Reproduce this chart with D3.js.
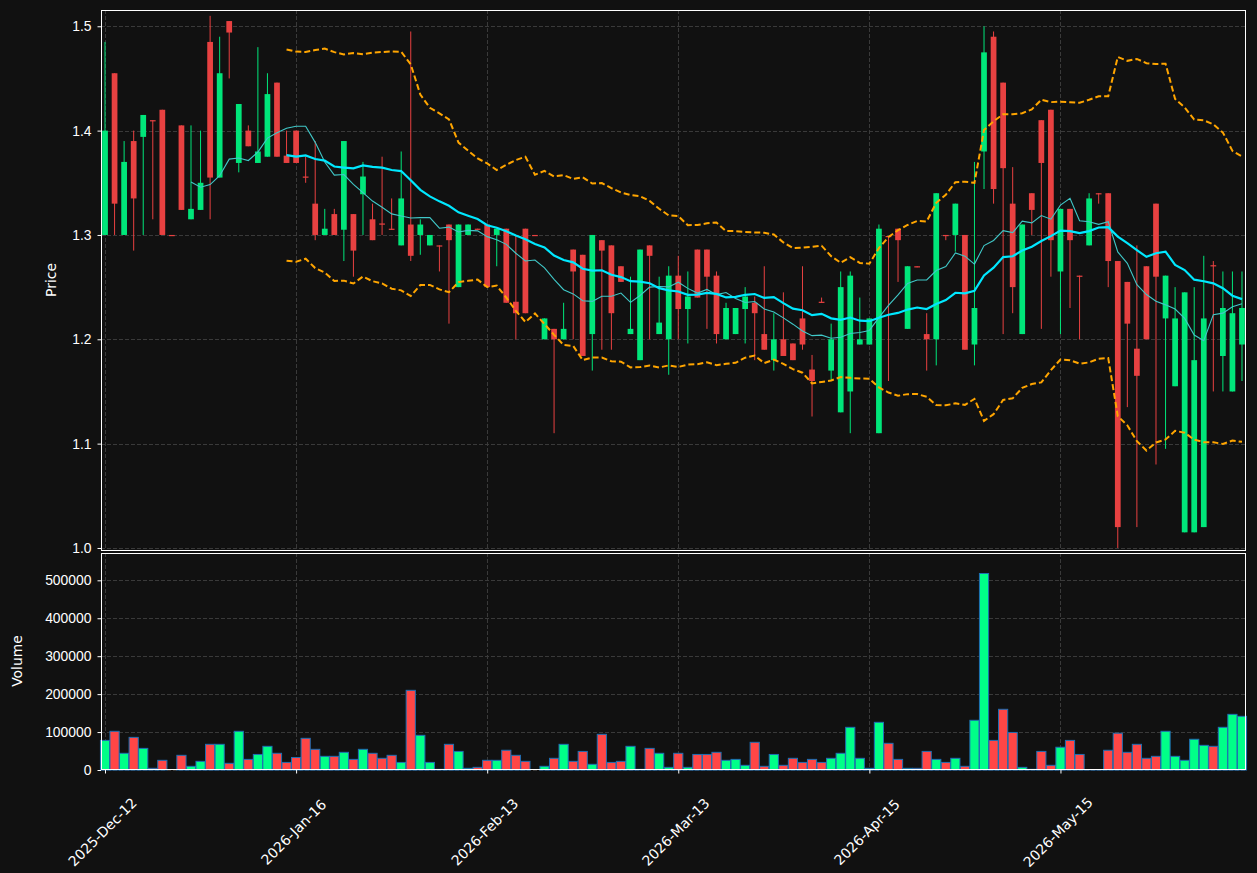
<!DOCTYPE html>
<html>
<head>
<meta charset="utf-8">
<script src="https://cdn.jsdelivr.net/npm/d3@7"></script>
<style>
  body { margin: 0; background: #111111; }
  svg { display: block; font-family: "DejaVu Sans", sans-serif; }
  .tick text { fill: #ffffff; font-size: 13.9px; }
  .tick line { stroke: #ffffff; }
  .grid line { stroke: #3a3a3a; stroke-width: 1; stroke-dasharray: 4,2; }
  .frame { fill: none; stroke: #ffffff; stroke-width: 1; }
  .label { fill: #ffffff; font-size: 13.9px; }
</style>
</head>
<body>
<svg id="chart" width="1257" height="873"></svg>
<script>
// trading-day index of each labelled tick
const tickIdx = [0, 20, 40, 60, 80, 100];
const tickLabels = ["2025-Dec-12", "2026-Jan-16", "2026-Feb-13", "2026-Mar-13", "2026-Apr-15", "2026-May-15"];

const open = [
  1.3, 1.455, 1.3, 1.39, 1.394, 1.41, 1.42, 1.3, 1.405, 1.315,
  1.324, 1.485, 1.355, 1.505, 1.369, 1.4, 1.369, 1.375, 1.446, 1.376,
  1.4, 1.356, 1.33, 1.3, 1.32, 1.305, 1.32, 1.339, 1.315, 1.311,
  1.306, 1.29, 1.31, 1.3, 1.29, 1.29, 1.31, 1.25, 1.3, 1.306,
  1.31, 1.3, 1.306, 1.236, 1.306, 1.3, 1.2, 1.21, 1.2, 1.286,
  1.281, 1.205, 1.295, 1.29, 1.27, 1.205, 1.18, 1.29, 1.205, 1.2,
  1.261, 1.229, 1.286, 1.286, 1.261, 1.2, 1.205, 1.229, 1.235, 1.205,
  1.18, 1.2, 1.196, 1.22, 1.171, 1.236, 1.17, 1.13, 1.15, 1.195,
  1.195, 1.11, 1.299, 1.306, 1.21, 1.27, 1.205, 1.2, 1.3, 1.3,
  1.3, 1.195, 1.38, 1.49, 1.446, 1.33, 1.205, 1.34, 1.41, 1.42,
  1.265, 1.325, 1.261, 1.29, 1.34, 1.34, 1.275, 1.255, 1.191, 1.27,
  1.33, 1.22, 1.155, 1.015, 1.015, 1.02, 1.271, 1.184, 1.15, 1.195
];
const high = [
  1.485, 1.455, 1.39, 1.4, 1.415, 1.41, 1.42, 1.3, 1.405, 1.405,
  1.4, 1.51, 1.49, 1.505, 1.4255, 1.405, 1.48, 1.455, 1.446, 1.4,
  1.4, 1.375, 1.39, 1.325, 1.325, 1.39, 1.32, 1.37, 1.33, 1.375,
  1.335, 1.38, 1.495, 1.315, 1.3, 1.29, 1.31, 1.31, 1.31, 1.306,
  1.31, 1.306, 1.306, 1.3, 1.306, 1.3, 1.22, 1.21, 1.235, 1.286,
  1.281, 1.3, 1.295, 1.29, 1.27, 1.26, 1.286, 1.29, 1.26, 1.27,
  1.28, 1.265, 1.286, 1.286, 1.265, 1.235, 1.23, 1.25, 1.241, 1.27,
  1.225, 1.245, 1.196, 1.27, 1.185, 1.24, 1.215, 1.265, 1.265, 1.24,
  1.22, 1.31, 1.299, 1.306, 1.27, 1.27, 1.225, 1.34, 1.3, 1.33,
  1.3, 1.37, 1.5, 1.495, 1.446, 1.365, 1.31, 1.34, 1.41, 1.42,
  1.325, 1.325, 1.261, 1.34, 1.34, 1.34, 1.275, 1.255, 1.29, 1.27,
  1.33, 1.261, 1.25, 1.245, 1.25, 1.28, 1.275, 1.265, 1.265, 1.265
];
const low = [
  1.3, 1.3, 1.3, 1.285, 1.3, 1.315, 1.3, 1.3, 1.324, 1.315,
  1.324, 1.315, 1.355, 1.45, 1.36, 1.385, 1.369, 1.375, 1.375, 1.369,
  1.369, 1.35, 1.295, 1.3, 1.3, 1.275, 1.26, 1.3, 1.295, 1.3,
  1.305, 1.29, 1.275, 1.281, 1.29, 1.265, 1.215, 1.25, 1.3, 1.305,
  1.25, 1.27, 1.235, 1.2, 1.225, 1.299, 1.2, 1.11, 1.2, 1.2,
  1.184, 1.17, 1.19, 1.19, 1.255, 1.205, 1.18, 1.2, 1.205, 1.166,
  1.2, 1.196, 1.24, 1.21, 1.196, 1.2, 1.205, 1.196, 1.18, 1.19,
  1.17, 1.184, 1.18, 1.19, 1.126, 1.235, 1.16, 1.13, 1.11, 1.195,
  1.195, 1.11, 1.16, 1.255, 1.21, 1.269, 1.17, 1.175, 1.295, 1.284,
  1.19, 1.175, 1.344, 1.33, 1.205, 1.225, 1.205, 1.3, 1.21, 1.26,
  1.205, 1.23, 1.2, 1.29, 1.33, 1.25, 1.0, 1.135, 1.02, 1.2,
  1.08, 1.095, 1.155, 1.015, 1.015, 1.02, 1.15, 1.15, 1.15, 1.16
];
const close = [
  1.4, 1.33, 1.37, 1.335, 1.415, 1.409, 1.3, 1.2999, 1.324, 1.325,
  1.35, 1.355, 1.455, 1.494, 1.4255, 1.385, 1.38, 1.435, 1.375, 1.369,
  1.369, 1.355, 1.3, 1.306, 1.3, 1.39, 1.285, 1.356, 1.295, 1.31,
  1.305, 1.335, 1.28, 1.31, 1.3, 1.289, 1.295, 1.31, 1.31, 1.305,
  1.25, 1.306, 1.235, 1.225, 1.225, 1.299, 1.22, 1.2, 1.21, 1.265,
  1.184, 1.3, 1.285, 1.225, 1.255, 1.21, 1.286, 1.28, 1.216, 1.261,
  1.229, 1.241, 1.24, 1.26, 1.205, 1.23, 1.23, 1.241, 1.225, 1.19,
  1.2, 1.184, 1.18, 1.195, 1.16, 1.235, 1.2, 1.25, 1.261, 1.2,
  1.22, 1.306, 1.298, 1.295, 1.27, 1.269, 1.2, 1.34, 1.299, 1.33,
  1.19, 1.23, 1.475, 1.344, 1.364, 1.25, 1.31, 1.324, 1.369, 1.295,
  1.325, 1.295, 1.26, 1.335, 1.339, 1.275, 1.02, 1.215, 1.165, 1.2,
  1.26, 1.261, 1.22, 1.245, 1.18, 1.22, 1.27, 1.23, 1.225, 1.23
];
const volume = [
  78000, 102000, 44000, 86000, 57000, 4400, 25500, 0, 38700, 9700,
  22800, 67700, 67700, 17600, 102000, 28000, 41000, 62400, 44000, 20000,
  33000, 83500, 54500, 36000, 36000, 46600, 28000, 54500, 44000, 30800,
  38700, 20000, 210000, 91400, 20000, 1800, 67700, 49000, 4400, 7000,
  25500, 25500, 52000, 38700, 22800, 0, 9700, 30800, 67700, 22800,
  49000, 15000, 94000, 20000, 22800, 62400, 1800, 57000, 44000, 7000,
  44000, 7000, 41000, 41000, 46600, 25500, 28000, 12300, 73000, 9700,
  41000, 12300, 30800, 20000, 28000, 20000, 30800, 44000, 112500, 30800,
  4400, 125700, 70300, 28000, 4400, 4400, 49000, 28000, 20000, 30800,
  9700, 131000, 518000, 78000, 160000, 99000, 7000, 1800, 49000, 12300,
  60000, 78000, 41000, 1000, 1000, 52000, 97000, 46600, 67700, 30800,
  36000, 102000, 36000, 25500, 81000, 65000, 62400, 112500, 146700, 141500
];

const priceTicks = [1.0, 1.1, 1.2, 1.3, 1.4, 1.5];
const volumeTicks = [0, 100000, 200000, 300000, 400000, 500000];

const upCandle = "#00e67a", downCandle = "#e84141";
const upVol = "#00ff88", downVol = "#ff4646";

const n = close.length;
const left = 101, right = 1246;
const priceTop = 10, priceBottom = 551;
const volTop = 553, volBottom = 770;

const svg = d3.select("#chart");
svg.append("rect").attr("width", 1257).attr("height", 873).attr("fill", "#111111");

/////////////////////////////////////////////////////////
// SCALES

const x = d3.scaleLinear().domain([-0.42, n - 1 + 0.42]).range([left, right]);
const yPrice = d3.scaleLinear().domain([0.9971, 1.5156]).range([priceBottom, priceTop]);
const yVol = d3.scaleLinear().domain([0, 572000]).range([volBottom, volTop]);
const step = x(1) - x(0);

const isUp = (i) => close[i] >= open[i];
const crisp = (v) => Math.round(v) + 0.5;

/////////////////////////////////////////////////////////
// INDICATORS

const rolling = (arr, w, fn) => arr.map((d, i) => i < w - 1 ? null : fn(arr.slice(i - w + 1, i + 1)));
const ma10 = rolling(close, 10, s => d3.mean(s));
const ma20 = rolling(close, 20, s => d3.mean(s));
const sd20 = rolling(close, 20, s => {
  const m = d3.mean(s);
  return Math.sqrt(d3.mean(s, v => (v - m) * (v - m)));
});
const upper = ma20.map((m, i) => m == null ? null : m + 2 * sd20[i]);
const lower = ma20.map((m, i) => m == null ? null : m - 2 * sd20[i]);

/////////////////////////////////////////////////////////
// GRID

const drawGrid = (yScale, ticks, top, bottom) => {
  const g = svg.append("g").attr("class", "grid");
  g.selectAll("line.h").data(ticks).enter().append("line")
    .attr("class", "h")
    .attr("x1", left).attr("x2", right)
    .attr("y1", d => crisp(yScale(d))).attr("y2", d => crisp(yScale(d)));
  g.selectAll("line.v").data(tickIdx).enter().append("line")
    .attr("class", "v")
    .attr("x1", d => crisp(x(d))).attr("x2", d => crisp(x(d)))
    .attr("y1", top).attr("y2", bottom);
};
drawGrid(yPrice, priceTicks, priceTop, priceBottom);
drawGrid(yVol, volumeTicks, volTop, volBottom);

/////////////////////////////////////////////////////////
// CANDLES

const idx = d3.range(n);
const candles = svg.append("g").attr("class", "candles");

candles.selectAll("line").data(idx).enter().append("line")
  .attr("x1", i => x(i)).attr("x2", i => x(i))
  .attr("y1", i => yPrice(high[i])).attr("y2", i => yPrice(low[i]))
  .attr("stroke", i => isUp(i) ? upCandle : downCandle)
  .attr("stroke-width", 1);

const bodyW = step * 0.6;
candles.selectAll("rect").data(idx).enter().append("rect")
  .attr("x", i => x(i) - bodyW / 2)
  .attr("width", bodyW)
  .attr("y", i => yPrice(Math.max(open[i], close[i])))
  .attr("height", i => Math.max(1.2, Math.abs(yPrice(open[i]) - yPrice(close[i]))))
  .attr("fill", i => isUp(i) ? upCandle : downCandle);

/////////////////////////////////////////////////////////
// LINES

const line = d3.line()
  .defined(d => d != null)
  .x((d, i) => x(i))
  .y(d => yPrice(d));

[upper, lower].forEach(band => {
  svg.append("path").datum(band).attr("d", line)
    .attr("fill", "none").attr("stroke", "#ffa500")
    .attr("stroke-width", 2).attr("stroke-dasharray", "6,3");
});
svg.append("path").datum(ma10).attr("d", line)
  .attr("fill", "none").attr("stroke", "#40c8c8").attr("stroke-width", 1.1);
svg.append("path").datum(ma20).attr("d", line)
  .attr("fill", "none").attr("stroke", "#00e8ff").attr("stroke-width", 2.2);

/////////////////////////////////////////////////////////
// VOLUME

const volW = step * 0.96;
svg.append("g").selectAll("rect").data(idx).enter().append("rect")
  .attr("x", i => x(i) - volW / 2)
  .attr("width", volW)
  .attr("y", i => yVol(volume[i]))
  .attr("height", i => yVol(0) - yVol(volume[i]))
  .attr("fill", i => isUp(i) ? upVol : downVol)
  .attr("stroke", "#1f6fb4")
  .attr("stroke-width", 1);

/////////////////////////////////////////////////////////
// AXES

const priceAxis = svg.append("g")
  .attr("transform", `translate(${left},0)`)
  .call(d3.axisLeft(yPrice).tickValues(priceTicks).tickFormat(d3.format(".1f")).tickSize(3.5).tickPadding(6));
priceAxis.select(".domain").remove();

const volAxis = svg.append("g")
  .attr("transform", `translate(${left},0)`)
  .call(d3.axisLeft(yVol).tickValues(volumeTicks).tickFormat(d3.format("d")).tickSize(3.5).tickPadding(6));
volAxis.select(".domain").remove();

const xAxis = svg.append("g")
  .attr("transform", `translate(0,${volBottom})`)
  .call(d3.axisBottom(x).tickValues(tickIdx).tickFormat("").tickSize(3.5));
xAxis.select(".domain").remove();

svg.append("g").selectAll("text").data(tickIdx).enter().append("text")
  .attr("class", "label")
  .attr("text-anchor", "middle")
  .attr("dominant-baseline", "central")
  .attr("transform", d => `translate(${x(d) - 2.5},832) rotate(-45)`)
  .text((d, i) => tickLabels[i]);

svg.append("rect").attr("class", "frame")
  .attr("x", left + 0.5).attr("y", priceTop + 0.5)
  .attr("width", right - left - 1).attr("height", priceBottom - priceTop - 1);
svg.append("rect").attr("class", "frame")
  .attr("x", left + 0.5).attr("y", volTop + 0.5)
  .attr("width", right - left - 1).attr("height", volBottom - volTop - 1);

svg.append("text").attr("class", "label")
  .attr("text-anchor", "middle")
  .attr("transform", `translate(56,280) rotate(-90)`)
  .text("Price");
svg.append("text").attr("class", "label")
  .attr("text-anchor", "middle")
  .attr("transform", `translate(22,661) rotate(-90)`)
  .text("Volume");
</script>
</body>
</html>
